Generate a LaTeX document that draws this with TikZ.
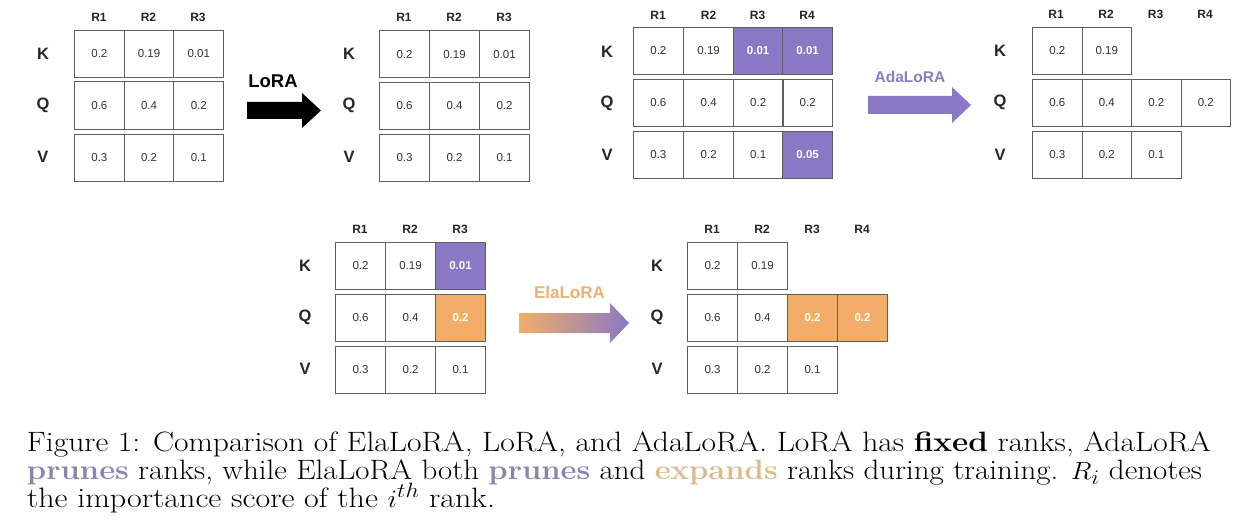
\documentclass[tikz,border=0pt]{standalone}
\usepackage{fontspec}
\usepackage{graphicx}
\newfontfamily\diagfont{Liberation Sans}
\definecolor{linegray}{HTML}{5E5E5E}
\definecolor{celltext}{HTML}{333333}
\definecolor{purp}{HTML}{8A78C4}
\definecolor{purptext}{HTML}{8C7DBE}
\definecolor{orng}{HTML}{F2AE68}
\definecolor{orngtext}{HTML}{EFB072}
\definecolor{capprune}{HTML}{8B84AE}
\definecolor{capexpand}{HTML}{DDB98C}
\newsavebox\capbox
\newdimen\capwd
\newcommand\fitcapline[2]{\sbox\capbox{\fontsize{28}{31}\selectfont #2}\capwd=\wd\capbox\pgfmathsetmacro\capsx{#1/\capwd}\scalebox{\capsx}[1]{\usebox\capbox}}
\tikzset{
  cell/.style={draw=linegray, line width=1pt, anchor=north west, inner sep=0pt,
    minimum width=#1, minimum height=47pt, font=\diagfont\fontsize{11.5}{13}\selectfont, text=celltext},
  cell/.default=49.7pt,
  pcell/.style={cell=#1, fill=purp, text=white, font=\diagfont\bfseries\fontsize{11.5}{13}\selectfont},
  pcell/.default=49.7pt,
  ocell/.style={cell=#1, fill=orng, text=white, font=\diagfont\bfseries\fontsize{11.5}{13}\selectfont},
  ocell/.default=49.7pt,
  colhead/.style={font=\diagfont\bfseries\fontsize{12}{14}\selectfont, text=black!85, inner sep=0pt},
  rowhead/.style={font=\diagfont\bfseries\fontsize{16.5}{18}\selectfont, text=black!85, inner sep=0pt},
  arrowlabel/.style={font=\diagfont\bfseries\fontsize{#1}{20}\selectfont, inner sep=0pt},
  capline/.style={anchor=base west, inner sep=0pt, outer sep=0pt},
}
\begin{document}
\begin{tikzpicture}[x=1pt,y=-1pt]
\useasboundingbox[fill=white] (0,0) rectangle (1249,532);

% ---------- Grid 1 (LoRA before) ----------
\foreach \c/\x in {1/99,2/148.5,3/198} \node[colhead] (g1h\c) at (\x,17) {R\c};
\node[rowhead] (g1k) at (43,53.5) {K};
\node[rowhead] (g1q) at (43,105) {Q};
\node[rowhead] (g1v) at (43,157) {V};
\node[cell] (g1a1) at (74,30) {0.2};
\node[cell] (g1a2) at (123.7,30) {0.19};
\node[cell] (g1a3) at (173.4,30) {0.01};
\node[cell] (g1b1) at (74,81.5) {0.6};
\node[cell] (g1b2) at (123.7,81.5) {0.4};
\node[cell] (g1b3) at (173.4,81.5) {0.2};
\node[cell] (g1c1) at (74,133.5) {0.3};
\node[cell] (g1c2) at (123.7,133.5) {0.2};
\node[cell] (g1c3) at (173.4,133.5) {0.1};

% LoRA arrow
\node[arrowlabel=18.5] (lora) at (273,81) {LoRA};
\fill[black] (247,102) -- (302,102) -- (302,93) -- (321,110.5) -- (302,128) -- (302,119) -- (247,119) -- cycle;

% ---------- Grid 2 (LoRA after) ----------
\foreach \c/\x in {1/404,2/454,3/504} \node[colhead] (g2h\c) at (\x,17) {R\c};
\node[rowhead] (g2k) at (349,53.5) {K};
\node[rowhead] (g2q) at (349,105) {Q};
\node[rowhead] (g2v) at (349,157) {V};
\node[cell=50pt] (g2a1) at (379,30.5) {0.2};
\node[cell=50pt] (g2a2) at (429,30.5) {0.19};
\node[cell=50pt] (g2a3) at (479,30.5) {0.01};
\node[cell=50pt] (g2b1) at (379,82) {0.6};
\node[cell=50pt] (g2b2) at (429,82) {0.4};
\node[cell=50pt] (g2b3) at (479,82) {0.2};
\node[cell=50pt] (g2c1) at (379,133.5) {0.3};
\node[cell=50pt] (g2c2) at (429,133.5) {0.2};
\node[cell=50pt] (g2c3) at (479,133.5) {0.1};

% ---------- Grid 3 (AdaLoRA before) ----------
\foreach \c/\x in {1/658,2/708.5,3/757.5,4/807} \node[colhead] (g3h\c) at (\x,15) {R\c};
\node[rowhead] (g3k) at (607,51.5) {K};
\node[rowhead] (g3q) at (607,103) {Q};
\node[rowhead] (g3v) at (607,155) {V};
\node[cell] (g3a1) at (633,27) {0.2};
\node[cell] (g3a2) at (683.3,27) {0.19};
\node[pcell] (g3a3) at (732.8,27) {0.01};
\node[pcell] (g3a4) at (782.3,27) {0.01};
\node[cell] (g3b1) at (633,79) {0.6};
\node[cell] (g3b2) at (683.3,79) {0.4};
\node[cell] (g3b3) at (732.8,79) {0.2};
\node[cell] (g3b4) at (782.3,79) {0.2};
\node[cell] (g3c1) at (633,131) {0.3};
\node[cell] (g3c2) at (683.3,131) {0.2};
\node[cell] (g3c3) at (732.8,131) {0.1};
\node[pcell] (g3c4) at (782.3,131) {0.05};

% AdaLoRA arrow
\node[arrowlabel=15.5, text=purptext] (adalora) at (910,76.5) {AdaLoRA};
\fill[purp] (868,96) -- (952,96) -- (952,87) -- (971,105) -- (952,123) -- (952,114) -- (868,114) -- cycle;

% ---------- Grid 4 (AdaLoRA after) ----------
\foreach \c/\x in {1/1056,2/1106,3/1155.5,4/1205} \node[colhead] (g4h\c) at (\x,14) {R\c};
\node[rowhead] (g4k) at (1000,51) {K};
\node[rowhead] (g4q) at (1000,102.5) {Q};
\node[rowhead] (g4v) at (1000,154.5) {V};
\node[cell=49.5pt] (g4a1) at (1032,27) {0.2};
\node[cell=49.5pt] (g4a2) at (1081.5,27) {0.19};
\node[cell=49.5pt] (g4b1) at (1032,79) {0.6};
\node[cell=49.5pt] (g4b2) at (1081.5,79) {0.4};
\node[cell=49.5pt] (g4b3) at (1131,79) {0.2};
\node[cell=49.5pt] (g4b4) at (1180.5,79) {0.2};
\node[cell=49.5pt] (g4c1) at (1032,131) {0.3};
\node[cell=49.5pt] (g4c2) at (1081.5,131) {0.2};
\node[cell=49.5pt] (g4c3) at (1131,131) {0.1};

% ---------- Grid 5 (ElaLoRA before) ----------
\foreach \c/\x in {1/360,2/410,3/460} \node[colhead] (g5h\c) at (\x,229) {R\c};
\node[rowhead] (g5k) at (305,266) {K};
\node[rowhead] (g5q) at (305,317.5) {Q};
\node[rowhead] (g5v) at (305,369) {V};
\node[cell=50pt] (g5a1) at (335,242) {0.2};
\node[cell=50pt] (g5a2) at (385,242) {0.19};
\node[pcell=50pt] (g5a3) at (435,242) {0.01};
\node[cell=50pt] (g5b1) at (335,293.5) {0.6};
\node[cell=50pt] (g5b2) at (385,293.5) {0.4};
\node[ocell=50pt] (g5b3) at (435,293.5) {0.2};
\node[cell=50pt] (g5c1) at (335,345.5) {0.3};
\node[cell=50pt] (g5c2) at (385,345.5) {0.2};
\node[cell=50pt] (g5c3) at (435,345.5) {0.1};

% ElaLoRA arrow
\node[arrowlabel=17, text=orngtext] (elalora) at (569.5,292.5) {ElaLoRA};
\shade[left color=orng, right color=purp] (519,313) -- (610,313) -- (610,303) -- (629,323) -- (610,343) -- (610,333) -- (519,333) -- cycle;

% ---------- Grid 6 (ElaLoRA after) ----------
\foreach \c/\x in {1/712,2/762,3/812,4/862} \node[colhead] (g6h\c) at (\x,229) {R\c};
\node[rowhead] (g6k) at (657,266) {K};
\node[rowhead] (g6q) at (657,317.5) {Q};
\node[rowhead] (g6v) at (657,369) {V};
\node[cell=50pt] (g6a1) at (687,242) {0.2};
\node[cell=50pt] (g6a2) at (737,242) {0.19};
\node[cell=50pt] (g6b1) at (687,293.5) {0.6};
\node[cell=50pt] (g6b2) at (737,293.5) {0.4};
\node[ocell=50pt] (g6b3) at (787,293.5) {0.2};
\node[ocell=50pt] (g6b4) at (837,293.5) {0.2};
\node[cell=50pt] (g6c1) at (687,345.5) {0.3};
\node[cell=50pt] (g6c2) at (737,345.5) {0.2};
\node[cell=50pt] (g6c3) at (787,345.5) {0.1};

% ---------- Caption ----------
\node[capline] (cap1) at (27,451) {\fitcapline{1184}{Figure 1: Comparison of ElaLoRA, LoRA, and AdaLoRA. LoRA has \textbf{fixed} ranks, AdaLoRA}};
\node[capline] (cap2) at (27,479) {\fitcapline{1175}{\textcolor{capprune}{\textbf{prunes}} ranks, while ElaLoRA both \textcolor{capprune}{\textbf{prunes}} and \textcolor{capexpand}{\textbf{expands}} ranks during training. $R_i$ denotes}};
\node[capline] (cap3) at (27,507) {\fitcapline{468}{the importance score of the $i^{th}$ rank.}};
\end{tikzpicture}
\end{document}
